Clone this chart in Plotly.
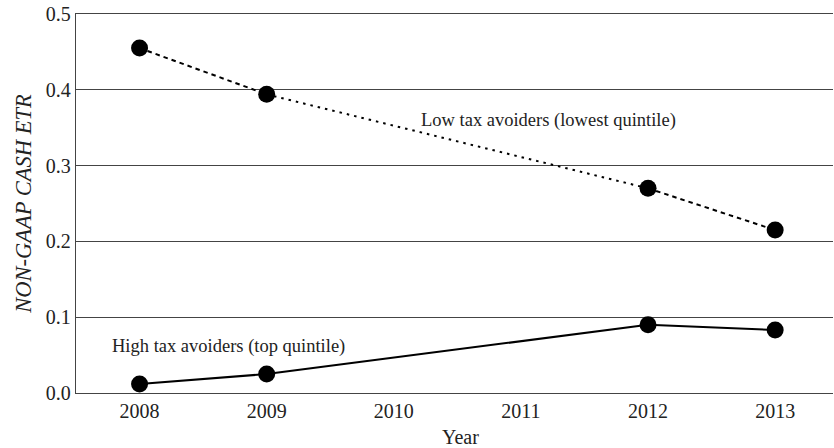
import plotly.graph_objects as go

years = [2008, 2009, 2012, 2013]
low_avoiders = [0.455, 0.394, 0.270, 0.215]
high_avoiders = [0.012, 0.025, 0.090, 0.083]
x_ticks = [2008, 2009, 2010, 2011, 2012, 2013]
y_ticks = [0.0, 0.1, 0.2, 0.3, 0.4, 0.5]

FONT = "'Liberation Serif', 'Times New Roman', 'DejaVu Serif', serif"
fig = go.Figure()

# Low tax avoiders: segment styles differ (dashed, dotted across the gap, dashed)
low_dash = ["4.5px,4px", "2.5px,5px", "4.5px,4px"]
for i in range(len(years) - 1):
    fig.add_trace(go.Scatter(
        x=years[i:i + 2], y=low_avoiders[i:i + 2], mode="lines",
        line=dict(color="black", width=2, dash=low_dash[i]),
        showlegend=False, hoverinfo="skip"))
fig.add_trace(go.Scatter(
    x=years, y=low_avoiders, mode="markers",
    marker=dict(color="black", size=17), showlegend=False))

fig.add_trace(go.Scatter(
    x=years, y=high_avoiders, mode="lines+markers",
    line=dict(color="black", width=2),
    marker=dict(color="black", size=17), showlegend=False))

fig.add_annotation(x=2011.22, y=0.36, text="Low tax avoiders (lowest quintile)",
                   showarrow=False, font=dict(family=FONT, size=18.5, color="#222"))
fig.add_annotation(x=2008.7, y=0.061, text="High tax avoiders (top quintile)",
                   showarrow=False, font=dict(family=FONT, size=18.5, color="#222"))
fig.add_annotation(x=(460 - 76) / (833 - 76), y=-(437 - 393) / (393 - 14),
                   xref="paper", yref="paper", xanchor="center", yanchor="middle",
                   text="Year", showarrow=False,
                   font=dict(family=FONT, size=20, color="#222"))

fig.update_layout(
    width=834, height=448,
    margin=dict(l=76, r=1, t=14, b=55, autoexpand=False),
    paper_bgcolor="white", plot_bgcolor="white",
    font=dict(family=FONT, size=20, color="#222"),
    xaxis=dict(range=[2007.5, 2013.455], tickvals=x_ticks, showgrid=False,
               zeroline=False, showline=True, mirror=True, linecolor="#444",
               linewidth=1.3, ticks="", automargin=False,
               tickfont=dict(family=FONT, size=20)),
    yaxis=dict(range=[0, 0.5], tickvals=y_ticks, tickformat=".1f",
               showgrid=True, gridcolor="#444", gridwidth=1.3,
               zeroline=False, showline=True, linecolor="#444", linewidth=1.3,
               ticks="", automargin=False, tickfont=dict(family=FONT, size=20),
               title=dict(text="<i>NON-GAAP CASH ETR</i>",
                          font=dict(family=FONT, size=22.5), standoff=7)),
)

fig.write_html("out.html", config={"displayModeBar": False},
               post_script="document.body.style.margin='0';")
